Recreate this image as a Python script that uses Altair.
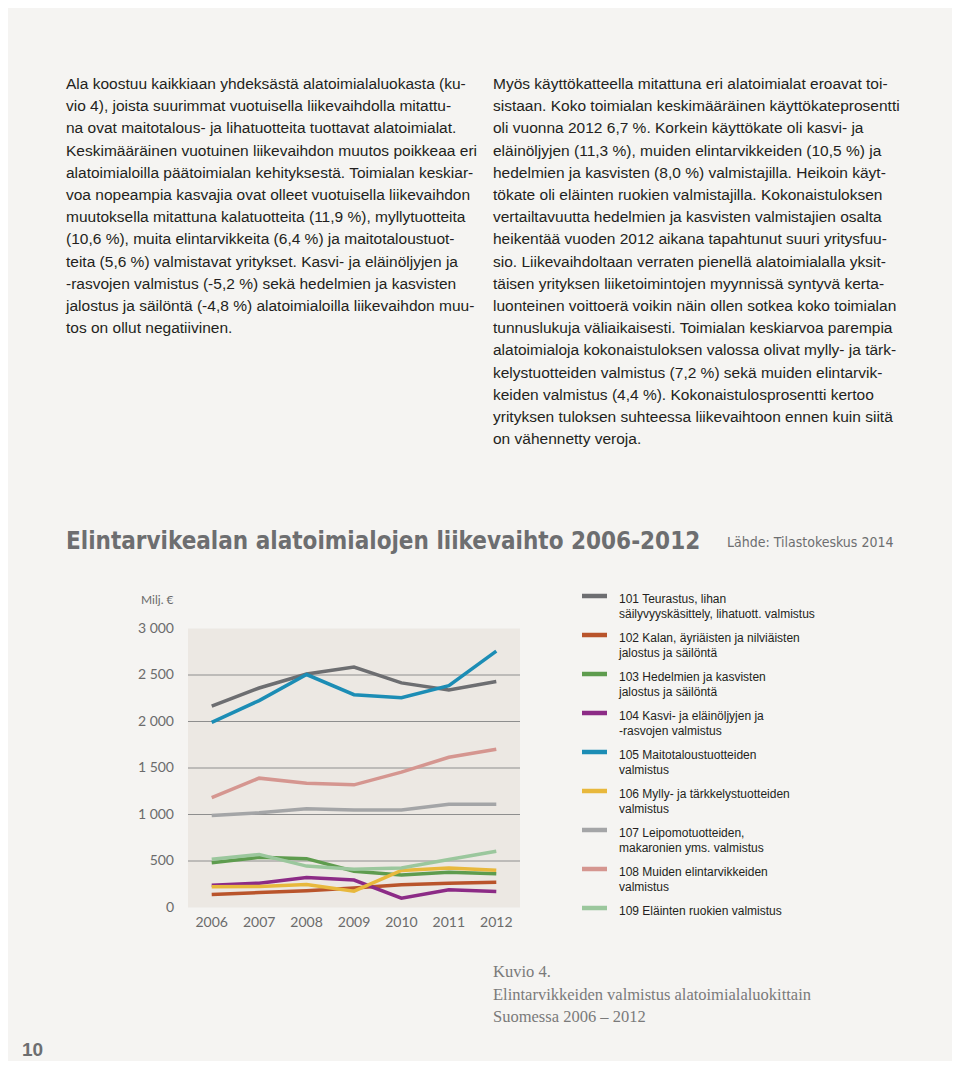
import altair as alt
import pandas as pd

# ---------------- data ----------------
years = [2006, 2007, 2008, 2009, 2010, 2011, 2012]
s101 = [2165, 2360, 2510, 2585, 2415, 2340, 2430]
s102 = [140, 160, 180, 210, 245, 260, 272]
s103 = [480, 540, 525, 390, 350, 380, 362]
s104 = [240, 262, 322, 295, 100, 190, 172]
s105 = [1990, 2225, 2505, 2288, 2255, 2385, 2757]
s106 = [224, 226, 248, 175, 398, 426, 400]
s107 = [990, 1019, 1063, 1048, 1048, 1110, 1110]
s108 = [1182, 1391, 1337, 1319, 1456, 1615, 1702]
s109 = [520, 571, 445, 412, 426, 517, 604]

codes = ["101", "102", "103", "104", "105", "106", "107", "108", "109"]
series_values = [s101, s102, s103, s104, s105, s106, s107, s108, s109]
legend_labels = [
    "101 Teurastus, lihan\nsäilyvyyskäsittely, lihatuott. valmistus",
    "102 Kalan, äyriäisten ja nilviäisten\njalostus ja säilöntä",
    "103 Hedelmien ja kasvisten\njalostus ja säilöntä",
    "104 Kasvi- ja eläinöljyjen ja\n-rasvojen valmistus",
    "105 Maitotaloustuotteiden\nvalmistus",
    "106 Mylly- ja tärkkelystuotteiden\nvalmistus",
    "107 Leipomotuotteiden,\nmakaronien yms. valmistus",
    "108 Muiden elintarvikkeiden\nvalmistus",
    "109 Eläinten ruokien valmistus",
]
colors = ["#6d6e71", "#b9542b", "#5e9c4e", "#8c2b86", "#1c8db5",
          "#e8b83c", "#a4a5a7", "#d59690", "#9bc79d"]

y_ticks = [0, 500, 1000, 1500, 2000, 2500, 3000]
y_tick_labels = ["0", "500", "1 000", "1 500", "2 000", "2 500", "3 000"]
grid_values = [500, 1000, 1500, 2000, 2500]

left_col = [
    "Ala koostuu kaikkiaan yhdeksästä alatoimialaluokasta (ku-",
    "vio 4), joista suurimmat vuotuisella liikevaihdolla mitattu-",
    "na ovat maitotalous- ja lihatuotteita tuottavat alatoimialat.",
    "Keskimääräinen vuotuinen liikevaihdon muutos poikkeaa eri",
    "alatoimialoilla päätoimialan kehityksestä. Toimialan keskiar-",
    "voa nopeampia kasvajia ovat olleet vuotuisella liikevaihdon",
    "muutoksella mitattuna kalatuotteita (11,9 %), myllytuotteita",
    "(10,6 %), muita elintarvikkeita (6,4 %) ja maitotaloustuot-",
    "teita (5,6 %) valmistavat yritykset. Kasvi- ja eläinöljyjen ja",
    "-rasvojen valmistus (-5,2 %) sekä hedelmien ja kasvisten",
    "jalostus ja säilöntä (-4,8 %) alatoimialoilla liikevaihdon muu-",
    "tos on ollut negatiivinen.",
]
right_col = [
    "Myös käyttökatteella mitattuna eri alatoimialat eroavat toi-",
    "sistaan. Koko toimialan keskimääräinen käyttökateprosentti",
    "oli vuonna 2012 6,7 %. Korkein käyttökate oli kasvi- ja",
    "eläinöljyjen (11,3 %), muiden elintarvikkeiden (10,5 %) ja",
    "hedelmien ja kasvisten (8,0 %) valmistajilla. Heikoin käyt-",
    "tökate oli eläinten ruokien valmistajilla. Kokonaistuloksen",
    "vertailtavuutta hedelmien ja kasvisten valmistajien osalta",
    "heikentää vuoden 2012 aikana tapahtunut suuri yritysfuu-",
    "sio. Liikevaihdoltaan verraten pienellä alatoimialalla yksit-",
    "täisen yrityksen liiketoimintojen myynnissä syntyvä kerta-",
    "luonteinen voittoerä voikin näin ollen sotkea koko toimialan",
    "tunnuslukuja väliaikaisesti. Toimialan keskiarvoa parempia",
    "alatoimialoja kokonaistuloksen valossa olivat mylly- ja tärk-",
    "kelystuotteiden valmistus (7,2 %) sekä muiden elintarvik-",
    "keiden valmistus (4,4 %). Kokonaistulosprosentti kertoo",
    "yrityksen tuloksen suhteessa liikevaihtoon ennen kuin siitä",
    "on vähennetty veroja.",
]
title_text = "Elintarvikealan alatoimialojen liikevaihto 2006-2012"
source_text = "Lähde: Tilastokeskus 2014"
unit_text = "Milj. €"
caption_lines = ["Kuvio 4.", "Elintarvikkeiden valmistus alatoimialaluokittain",
                 "Suomessa 2006 – 2012"]
page_number = "10"

# ---------------- tables ----------------
long_rows = []
for code, vals in zip(codes, series_values):
    for yr, v in zip(years, vals):
        long_rows.append({"code": code, "year": yr, "value": v})
df_lines = pd.DataFrame(long_rows)
df_legend = pd.DataFrame({"idx": list(range(len(codes))), "code": codes,
                          "label": legend_labels})
df_yt = pd.DataFrame({"value": y_ticks, "label": y_tick_labels})
df_xt = pd.DataFrame({"year": years, "label": [str(y) for y in years]})
df_grid = pd.DataFrame({"value": grid_values, "x0": 2005.5, "x1": 2012.5})
df_bg = pd.DataFrame({"x0": [2005.5], "x1": [2012.5], "y0": [0], "y1": [3000]})

xs = alt.Scale(domain=[2005.5, 2012.5], range=[180, 512])
ys = alt.Scale(domain=[0, 3000], range=[899.5, 620.5])
ls = alt.Scale(domain=[0, 8], range=[588, 900])
cs = alt.Scale(domain=codes, range=colors)

SANS = "Liberation Sans, Arial, Helvetica, sans-serif"
NARROW = "Liberation Sans Narrow, DejaVu Sans Condensed, Liberation Sans, sans-serif"
TXT = "#231f20"


def one(text):
    return pd.DataFrame({"t": [text]})


bg = alt.Chart(df_bg).mark_rect(color="#ece8e3").encode(
    x=alt.X("x0:Q", scale=xs, axis=None), x2="x1:Q",
    y=alt.Y("y0:Q", scale=ys, axis=None), y2="y1:Q")

grid = alt.Chart(df_grid).mark_rule(color="#8e8e8e", strokeWidth=1).encode(
    x=alt.X("x0:Q", scale=xs, axis=None), x2="x1:Q",
    y=alt.Y("value:Q", scale=ys, axis=None))

lines = alt.Chart(df_lines).mark_line(strokeWidth=3.5).encode(
    x=alt.X("year:Q", scale=xs, axis=None),
    y=alt.Y("value:Q", scale=ys, axis=None),
    color=alt.Color("code:N", scale=cs, legend=None))

ytxt = alt.Chart(df_yt).mark_text(align="right", baseline="middle", font="Lato",
                                  fontSize=14, color="#6b6b6b").encode(
    y=alt.Y("value:Q", scale=ys, axis=None), x=alt.value(166), text="label:N")

xtxt = alt.Chart(df_xt).mark_text(align="center", baseline="middle", font="Lato",
                                  fontSize=14, color="#6b6b6b").encode(
    x=alt.X("year:Q", scale=xs, axis=None), y=alt.value(915), text="label:N")

unit = alt.Chart(one(unit_text)).mark_text(align="left", baseline="middle", font="Lato",
                                           fontSize=12, color="#6b6b6b").encode(
    x=alt.value(133), y=alt.value(592), text="t:N")

sw = alt.Chart(df_legend).mark_rule(strokeWidth=4.5).encode(
    y=alt.Y("idx:Q", scale=ls, axis=None), x=alt.value(574), x2=alt.value(599),
    color=alt.Color("code:N", scale=cs, legend=None))

lt = alt.Chart(df_legend).mark_text(align="left", baseline="alphabetic", dy=7,
                                    lineBreak="\n", lineHeight=14.5, font=SANS,
                                    fontSize=12, color=TXT).encode(
    y=alt.Y("idx:Q", scale=ls, axis=None), x=alt.value(611), text="label:N")

colL = alt.Chart(one("\n".join(left_col))).mark_text(
    align="left", baseline="alphabetic", lineBreak="\n", lineHeight=22.2,
    font=SANS, fontSize=15.5, color=TXT).encode(x=alt.value(58), y=alt.value(81), text="t:N")

colR = alt.Chart(one("\n".join(right_col))).mark_text(
    align="left", baseline="alphabetic", lineBreak="\n", lineHeight=22.2,
    font=SANS, fontSize=15.5, color=TXT).encode(x=alt.value(485), y=alt.value(81), text="t:N")

title = alt.Chart(one(title_text)).mark_text(
    align="left", baseline="alphabetic", font=NARROW, fontWeight="bold",
    fontSize=24, color="#6d6e70").encode(x=alt.value(58), y=alt.value(541), text="t:N")

source = alt.Chart(one(source_text)).mark_text(
    align="left", baseline="alphabetic", font=NARROW,
    fontSize=14, color="#6d6e70").encode(x=alt.value(719), y=alt.value(539), text="t:N")

caption = alt.Chart(one("\n".join(caption_lines))).mark_text(
    align="left", baseline="alphabetic", lineBreak="\n", lineHeight=22.7,
    font="Liberation Serif, serif", fontSize=16.5, color="#7a7a7a").encode(
    x=alt.value(485), y=alt.value(969), text="t:N")

pnum = alt.Chart(one(page_number)).mark_text(
    align="left", baseline="alphabetic", font=SANS, fontWeight="bold",
    fontSize=19, color="#6d6e70").encode(x=alt.value(14), y=alt.value(1048), text="t:N")

chart = alt.layer(
    bg, grid, lines, ytxt, xtxt, unit, sw, lt, colL, colR, title, source, caption, pnum
).resolve_scale(
    x="independent", y="independent"
).properties(
    width=944, height=1053,
    autosize=alt.AutoSizeParams(type="none"),
    padding=0,
    background="#f5f4f2",
).configure_view(stroke=None)

chart.save("out.html", embed_options={"renderer": "svg", "actions": False})
